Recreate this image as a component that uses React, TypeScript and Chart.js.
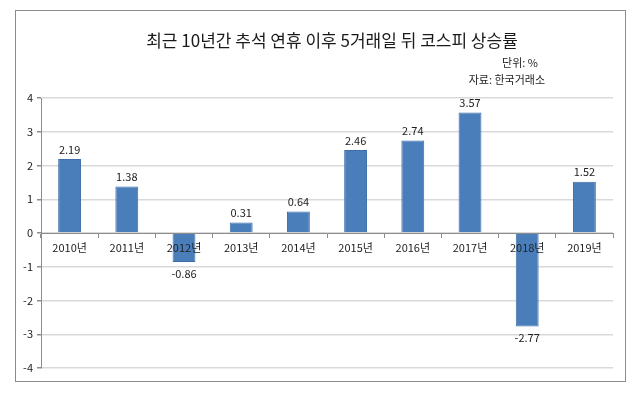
import React, { useEffect, useRef } from 'react';
import { Chart, registerables } from 'chart.js';

Chart.register(...registerables);

const categories = ['2010년', '2011년', '2012년', '2013년', '2014년', '2015년', '2016년', '2017년', '2018년', '2019년'];
const values = [2.19, 1.38, -0.86, 0.31, 0.64, 2.46, 2.74, 3.57, -2.77, 1.52];
const yMin = -4;
const yMax = 4;
const yStep = 1;
const titleText = '최근 10년간 추석 연휴 이후 5거래일 뒤 코스피 상승률';
const unitText = '단위: %';
const sourceText = '자료: 한국거래소';

const FONT = '"Noto Sans CJK KR", "Noto Sans", sans-serif';

const framePlugin = {
  id: 'frameAndTitle',
  beforeDraw(chart: any) {
    const ctx = chart.ctx;
    ctx.save();
    ctx.fillStyle = '#ffffff';
    ctx.fillRect(0, 0, chart.width, chart.height);
    ctx.strokeStyle = '#8c8c8c';
    ctx.lineWidth = 1;
    ctx.strokeRect(15.5, 10.5, 610, 371);
    ctx.fillStyle = '#1a1a1a';
    ctx.textAlign = 'center';
    ctx.textBaseline = 'middle';
    ctx.font = `17px ${FONT}`;
    ctx.fillText(titleText, 332, 41);
    ctx.textAlign = 'right';
    ctx.font = `11px ${FONT}`;
    ctx.fillStyle = '#222222';
    ctx.fillText(unitText, 538, 63);
    ctx.fillText(sourceText, 545, 80);
    ctx.restore();
  },
};

const labelPlugin = {
  id: 'valueLabels',
  afterDatasetsDraw(chart: any) {
    const ctx = chart.ctx;
    const meta = chart.getDatasetMeta(0);
    ctx.save();
    ctx.font = `11px ${FONT}`;
    ctx.fillStyle = '#222222';
    ctx.textAlign = 'center';
    meta.data.forEach((el: any, i: number) => {
      const v = values[i];
      if (v >= 0) {
        ctx.textBaseline = 'bottom';
        ctx.fillText(v.toFixed(2), el.x, el.y - 4);
      } else {
        ctx.textBaseline = 'top';
        ctx.fillText(v.toFixed(2), el.x, el.y + 6);
      }
    });
    ctx.restore();
  },
};

export default function App() {
  const ref = useRef<HTMLCanvasElement>(null);
  useEffect(() => {
    if (!ref.current) return;
    const chart = new Chart(ref.current, {
      type: 'bar',
      data: {
        labels: categories,
        datasets: [
          {
            data: values,
            backgroundColor: '#4a7ebb',
            borderColor: '#3d6ea6',
            borderWidth: 1,
            barPercentage: 0.4,
            categoryPercentage: 1,
          },
        ],
      },
      options: {
        responsive: false,
        animation: false,
        devicePixelRatio: 1,
        layout: { padding: { left: 15, top: 98, right: 27, bottom: 27 } },
        plugins: {
          legend: { display: false },
          title: { display: false },
          tooltip: { enabled: false },
        },
        scales: {
          x: {
            type: 'category',
            position: { y: 0 } as any,
            offset: true,
            grid: {
              offset: true,
              drawOnChartArea: false,
              drawTicks: true,
              tickLength: 4,
              color: '#8c8c8c',
              z: 1,
            } as any,
            border: { display: true, color: '#8c8c8c', width: 1, z: 1 } as any,
            ticks: {
              font: { family: FONT, size: 11 },
              color: '#222222',
              padding: 4,
              maxRotation: 0,
              autoSkip: false,
              z: 2,
            } as any,
          },
          y: {
            min: yMin,
            max: yMax,
            ticks: {
              stepSize: yStep,
              font: { family: FONT, size: 11 },
              color: '#222222',
              padding: 4,
            },
            grid: {
              color: '#d9d9d9',
              lineWidth: 1.5,
              tickLength: 4,
              tickColor: '#8c8c8c',
            },
            border: { display: true, color: '#8c8c8c', width: 1 },
            afterFit(scale: any) {
              scale.width = 26;
            },
          },
        },
      },
      plugins: [framePlugin, labelPlugin],
    });
    return () => chart.destroy();
  }, []);
  return (
    <div style={{ position: 'absolute', left: 0, top: 0, width: 640, height: 395, background: '#fff' }}>
      <canvas ref={ref} width={640} height={395} />
    </div>
  );
}
